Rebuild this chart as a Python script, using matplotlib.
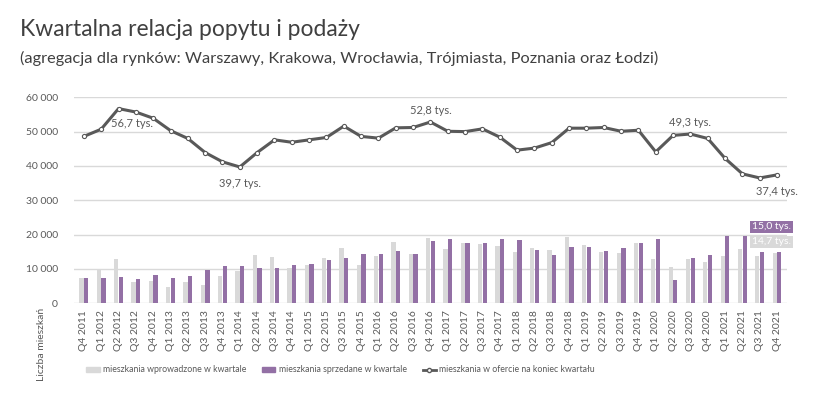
import matplotlib
import matplotlib.pyplot as plt
from matplotlib.lines import Line2D
from matplotlib.patches import Patch
from matplotlib.ticker import FuncFormatter
import numpy as np

matplotlib.use("Agg")
plt.rcParams["font.family"] = ["Lato", "DejaVu Sans"]

quarters = ["Q4 2011"] + ["Q%d %d" % (q, y) for y in range(2012, 2022) for q in range(1, 5)]

# mieszkania wprowadzone w kwartale
wprowadzone = [7300, 9600, 12900, 6200, 6600, 4600, 6200, 5300, 7800, 9500,
               14000, 13500, 10400, 11200, 13200, 16100, 11200, 13800, 17900, 14400,
               18900, 15900, 17500, 17400, 16800, 14800, 16200, 15500, 19300, 16900,
               14900, 14500, 17600, 13000, 10500, 12900, 12100, 13900, 15800, 13800,
               14700]
# mieszkania sprzedane w kwartale
sprzedane = [7300, 7400, 7600, 7000, 8300, 7300, 8000, 9600, 10800, 10900,
             10300, 10300, 11200, 11400, 12700, 13200, 14400, 14300, 15100, 14400,
             18000, 18800, 17600, 17600, 18800, 18400, 15600, 14200, 16500, 16500,
             15100, 16100, 17600, 18800, 6800, 13300, 14000, 19500, 19500, 14900,
             15000]
# mieszkania w ofercie na koniec kwartalu
oferta = [48600, 50700, 56700, 55700, 53900, 50300, 48000, 43900, 41200, 39700,
          43900, 47600, 46900, 47600, 48300, 51600, 48600, 48100, 51100, 51200,
          52800, 50100, 50000, 50800, 48400, 44600, 45200, 46800, 51000, 51000,
          51200, 50100, 50400, 44100, 48900, 49300, 48000, 42200, 37700, 36500,
          37400]

# etykiety linii: indeks, tekst, przesuniecie (pt)
line_labels = [(2, "56,7 tys.", (10, -11)), (9, "39,7 tys.", (0, -12)),
               (20, "52,8 tys.", (0, 8)), (35, "49,3 tys.", (0, 8)),
               (40, "37,4 tys.", (0, -12))]

text_col = "#595959"
grey = "#d9d9d9"
purple = "#9370a5"

fig = plt.figure(figsize=(8.36, 4.0), dpi=100)
ax = fig.add_axes([0.0889, 0.2418, 0.852, 0.5150])

x = np.arange(len(quarters))
w = 0.24
ax.bar(x - 0.135, wprowadzone, width=w, color=grey, zorder=2)
ax.bar(x + 0.135, sprzedane, width=w, color=purple, zorder=2)
ax.plot(x, oferta, color=text_col, lw=2.2, marker="o", markersize=3,
        markerfacecolor="white", markeredgecolor=text_col, markeredgewidth=0.8, zorder=3)

for i, txt, off in line_labels:
    ax.annotate(txt, (x[i], oferta[i]), xytext=off, textcoords="offset points",
                ha="center", va="center", fontsize=8, color=text_col)

ax.annotate("%s tys." % format(sprzedane[-1] / 1000, ".1f").replace(".", ","),
            (x[-1], sprzedane[-1]), xytext=(-4, 18), textcoords="offset points",
            ha="center", va="center", fontsize=7.5, color="white",
            bbox=dict(boxstyle="square,pad=0.15", fc=purple, ec="none"))
ax.annotate("%s tys." % format(wprowadzone[-1] / 1000, ".1f").replace(".", ","),
            (x[-1], wprowadzone[-1]), xytext=(-4, 8), textcoords="offset points",
            ha="center", va="center", fontsize=7.5, color="white",
            bbox=dict(boxstyle="square,pad=0.15", fc=grey, ec="none"))

ax.set_xlim(-0.55, len(quarters) - 0.45)
ax.set_ylim(0, 60000)
ax.set_yticks(range(0, 60001, 10000))
ax.yaxis.set_major_formatter(FuncFormatter(lambda v, p: format(int(v), ",").replace(",", " ")))
ax.set_xticks(x)
ax.set_xticklabels(quarters, rotation=90)
ax.tick_params(axis="both", length=0, labelsize=7.5, labelcolor=text_col)
ax.tick_params(axis="y", pad=12)
ax.tick_params(axis="x", pad=5)
ax.grid(axis="y", color=grey, lw=1, zorder=0)
for s in ax.spines.values():
    s.set_visible(False)

fig.text(0.024, 0.925, "Kwartalna relacja popytu i podaży", fontsize=16.5, color="#404040", va="center")
fig.text(0.024, 0.855, "(agregacja dla rynków: Warszawy, Krakowa, Wrocławia, Trójmiasta, Poznania oraz Łodzi)",
         fontsize=11.8, color="#404040", va="center")
fig.text(0.05, 0.14, "Liczba mieszkań", rotation=90, fontsize=7.5, color=text_col, ha="center", va="center")

handles = [Patch(color=grey), Patch(color=purple),
           Line2D([], [], color=text_col, lw=2, marker="o", markersize=3,
                  markerfacecolor="white", markeredgecolor=text_col)]
names = ["mieszkania wprowadzone w kwartale", "mieszkania sprzedane w kwartale",
         "mieszkania w ofercie na koniec kwartału"]
fig.legend(handles, names, loc="center left", bbox_to_anchor=(0.094, 0.075), ncol=3, frameon=False,
           prop={"family": "Lato", "size": 6.3},
           labelcolor=text_col, handlelength=1.5, handleheight=0.6,
           columnspacing=1.8, handletextpad=0.4)

fig.savefig("out.png", dpi=100)
